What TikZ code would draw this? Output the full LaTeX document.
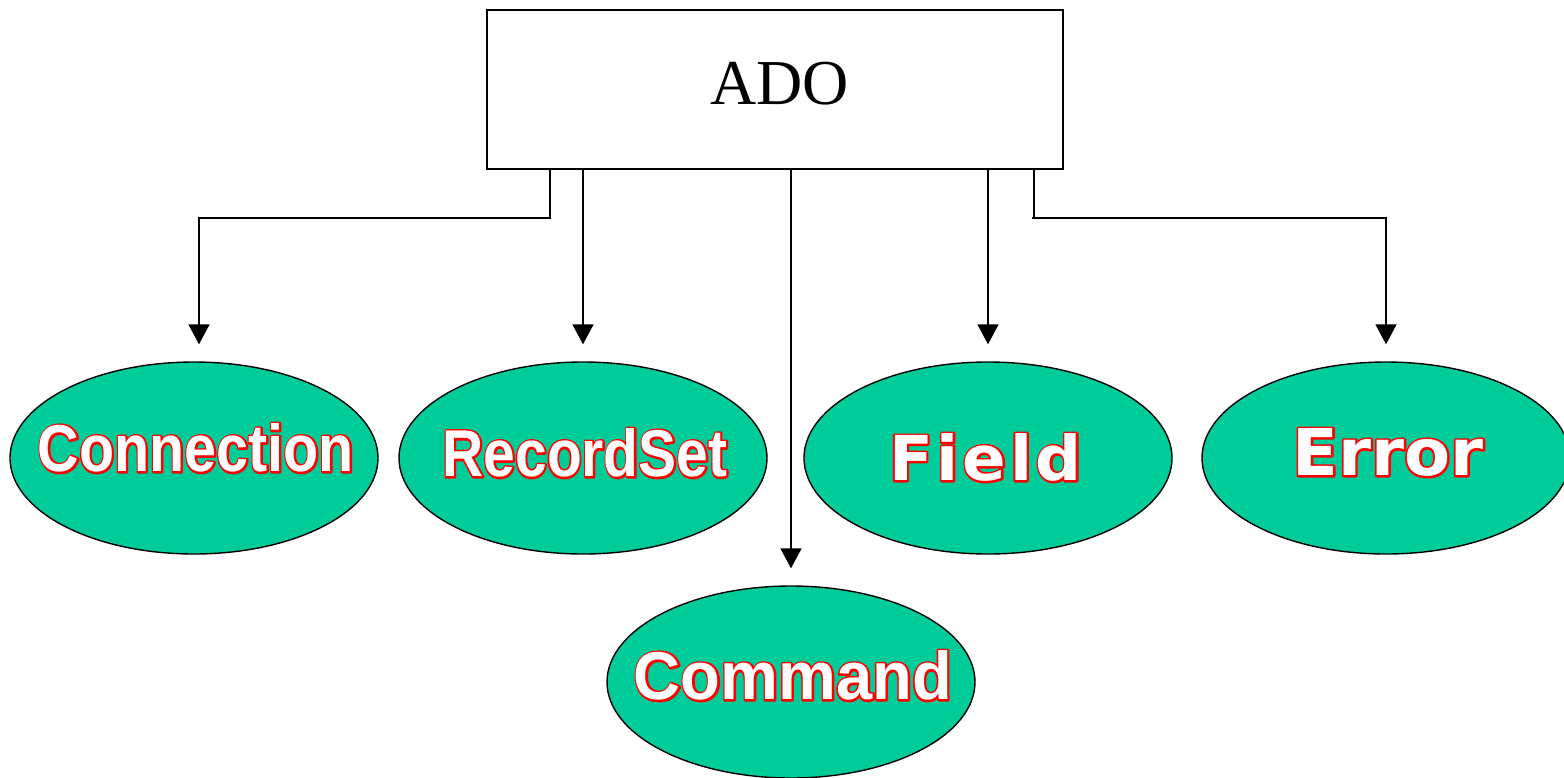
\documentclass[tikz,border=0pt]{standalone}
\usepackage{fontspec}
\usepackage{graphicx}
\setmainfont{Liberation Serif}
\newfontfamily\arialf{Liberation Sans}
\newfontfamily\dejaf{DejaVu Sans}
\usetikzlibrary{shapes.geometric,arrows.meta,calc}
\definecolor{ellgreen}{RGB}{0,204,153}
\newcommand\outlined[1]{\hbox{\rlap{\color{red}\special{pdf:literal direct 1 0 0 RG 4.2 w 1 j 2 Tr}#1\special{pdf:literal direct 0 Tr}}\color{white}#1}}
\tikzset{
  objell/.style={ellipse,draw=black,line width=1.4pt,fill=ellgreen,minimum width=368pt,minimum height=192pt,inner sep=0pt},
  adobox/.style={rectangle,draw=black,line width=1.8pt,minimum width=576pt,minimum height=159pt,inner sep=0pt},
  lbl/.style={inner sep=0pt},
  arr/.style={line width=1.6pt,-{Triangle[width=21pt,length=20pt]}},
  seg/.style={line width=1.6pt}
}
\begin{document}
\begin{tikzpicture}[x=1pt,y=-1pt]
\useasboundingbox (0,0) rectangle (1564,777);
\node[adobox] (ado) at (775,89.5) {};
\node[lbl] (adotxt) at (779.5,83.5) {\fontsize{64}{70}\selectfont ADO};

\node[objell] (conn) at (194,458) {};
\node[objell] (rs) at (583,458) {};
\node[objell] (fld) at (988,458) {};
\node[objell] (err) at (1386,458) {};
\node[objell] (cmd) at (791,682) {};

\node[lbl] (conntxt) at (196,448) {\resizebox{316pt}{48pt}{\outlined{\arialf\bfseries\fontsize{70}{80}\selectfont Connection}}};
\node[lbl] (rstxt) at (585,453) {\resizebox{285pt}{48pt}{\outlined{\arialf\bfseries\fontsize{70}{80}\selectfont RecordSet}}};
\node[lbl] (fldtxt) at (985.5,457.5) {\resizebox{193pt}{47pt}{\outlined{\dejaf\bfseries\fontsize{67}{75}\selectfont F\kern4pt i\kern4pt e\kern4pt l\kern4pt d}}};
\node[lbl] (errtxt) at (1388,452.5) {\resizebox{191pt}{47pt}{\outlined{\dejaf\bfseries\fontsize{67}{75}\selectfont Error}}};
\node[lbl] (cmdtxt) at (793,675.5) {\resizebox{318pt}{49pt}{\outlined{\arialf\bfseries\fontsize{70}{80}\selectfont Command}}};

% connectors
\coordinate (cS) at ($(ado.south west)+(64,0)$);
\draw[arr] (cS) -- ++(0,48) -| ($(conn.north)+(5,-17)$);
\draw[arr] (ado.south -| rs.north) -- ($(rs.north)+(0,-17)$);
\draw[arr] (ado.south -| cmd.north) -- ($(cmd.north)+(0,-17)$);
\draw[arr] (ado.south -| fld.north) -- ($(fld.north)+(0,-17)$);
\coordinate (eS) at ($(ado.south east)+(-30,0)$);
\draw[seg] (eS) -- ++(0,48);
\draw[arr] ($(eS)+(-2,48)$) -| ($(err.north)+(0,-17)$);
\end{tikzpicture}
\end{document}
